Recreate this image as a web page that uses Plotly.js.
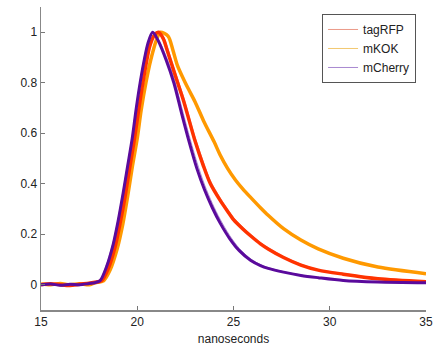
<!DOCTYPE html>
<html>
<head>
<meta charset="utf-8">
<script src="https://cdn.plot.ly/plotly-3.0.1.min.js"></script>
<style>
html,body{margin:0;padding:0;background:#fff;}
#chart{width:440px;height:350px;}
</style>
</head>
<body>
<div id="chart"></div>
<script>
// ---- data ----
const seriesNames = ["tagRFP", "mKOK", "mCherry"];

const mCherryX = [15, 15.5, 16, 16.5, 17, 17.5, 17.8, 18.07, 18.4, 18.75, 19.0, 19.27, 19.5, 19.74, 19.95, 20.15, 20.35, 20.55, 20.8, 21.1, 21.5, 21.9, 22.3, 22.7, 23.1, 23.5, 23.9, 24.3, 24.8, 25.3, 25.9, 26.4, 26.8, 27.6, 28.5, 29.4, 30.7, 32.5, 35];
const mCherryY = [0.0, 0.003, -0.002, 0.002, 0.0, 0.005, 0.008, 0.016, 0.07, 0.16, 0.25, 0.364, 0.47, 0.58, 0.70, 0.80, 0.885, 0.955, 1.0, 0.965, 0.89, 0.80, 0.68, 0.565, 0.46, 0.375, 0.305, 0.245, 0.183, 0.135, 0.096, 0.076, 0.065, 0.05, 0.037, 0.028, 0.017, 0.011, 0.008];
const mCherryRepY = [0.0, 0.002, 0.001, -0.001, 0.002, 0.004, 0.01, 0.02, 0.08, 0.17, 0.26, 0.375, 0.48, 0.59, 0.71, 0.81, 0.895, 0.962, 1.0, 0.972, 0.905, 0.82, 0.705, 0.59, 0.485, 0.395, 0.322, 0.26, 0.195, 0.144, 0.102, 0.08, 0.068, 0.052, 0.039, 0.029, 0.018, 0.012, 0.009];

const tagRFPX = [15, 15.5, 16, 16.5, 17, 17.5, 17.8, 18.15, 18.5, 18.85, 19.1, 19.37, 19.6, 19.84, 20.05, 20.25, 20.45, 20.65, 20.9, 21.1, 21.35, 21.55, 21.8, 22.1, 22.4, 22.7, 23.0, 23.44, 23.8, 24.3, 24.7, 25.0, 25.5, 25.9, 26.4, 26.8, 27.6, 28.5, 29.4, 30.7, 32.5, 35];
const tagRFPY = [0.0, 0.004, 0.0, -0.003, 0.002, 0.006, 0.01, 0.016, 0.065, 0.15, 0.24, 0.35, 0.46, 0.57, 0.68, 0.78, 0.87, 0.945, 0.99, 1.0, 0.975, 0.93, 0.87, 0.80, 0.73, 0.65, 0.57, 0.47, 0.40, 0.335, 0.29, 0.258, 0.22, 0.193, 0.162, 0.142, 0.108, 0.078, 0.058, 0.042, 0.024, 0.012];
const tagRFPRepY = [0.005, -0.003, 0.006, 0.0, -0.004, 0.01, 0.004, 0.01, 0.05, 0.13, 0.22, 0.33, 0.45, 0.56, 0.67, 0.77, 0.86, 0.94, 0.985, 1.0, 0.985, 0.945, 0.885, 0.815, 0.745, 0.665, 0.585, 0.485, 0.412, 0.345, 0.298, 0.266, 0.227, 0.199, 0.167, 0.147, 0.112, 0.082, 0.06, 0.045, 0.027, 0.014];

const mKOKX = [15, 15.5, 16, 16.5, 17, 17.5, 17.8, 18.25, 18.6, 18.95, 19.25, 19.5, 19.75, 20.0, 20.2, 20.45, 20.7, 21.0, 21.2, 21.6, 21.85, 22.08, 22.4, 22.66, 23.0, 23.44, 24.0, 24.3, 24.7, 25.1, 25.5, 25.9, 26.4, 26.8, 27.6, 28.5, 29.4, 30.7, 32.5, 35];
const mKOKY = [0.003, 0.0, 0.005, 0.0, 0.004, 0.0, 0.008, 0.016, 0.06, 0.14, 0.24, 0.35, 0.47, 0.58, 0.69, 0.80, 0.89, 0.97, 1.0, 0.985, 0.93, 0.87, 0.815, 0.775, 0.725, 0.65, 0.565, 0.515, 0.46, 0.415, 0.378, 0.345, 0.305, 0.275, 0.222, 0.177, 0.142, 0.105, 0.07, 0.044];
const mKOKRepY = [0.0, 0.006, 0.0, 0.004, -0.002, 0.005, 0.012, 0.02, 0.07, 0.15, 0.25, 0.36, 0.48, 0.59, 0.70, 0.81, 0.90, 0.975, 1.0, 0.98, 0.925, 0.865, 0.81, 0.77, 0.72, 0.645, 0.56, 0.51, 0.455, 0.412, 0.376, 0.343, 0.304, 0.274, 0.221, 0.178, 0.141, 0.107, 0.072, 0.045];

const xTicks = [15, 20, 25, 30, 35];
const yTicks = [0, 0.2, 0.4, 0.6, 0.8, 1];

// ---- styles ----
const thickColors = {tagRFP: "#ff3300", mKOK: "#ff9900", mCherry: "#5a0a9c"};
const thinColors = {tagRFP: "#eb9a88", mKOK: "#f2c870", mCherry: "#a888d0"};

const traces = [
  {x: tagRFPX, y: tagRFPRepY, name: "tagRFP", mode: "lines", line: {color: thinColors.tagRFP, width: 1, shape: "spline", smoothing: 0.8}},
  {x: mKOKX, y: mKOKRepY, name: "mKOK", mode: "lines", line: {color: thinColors.mKOK, width: 1, shape: "spline", smoothing: 0.8}},
  {x: mCherryX, y: mCherryRepY, name: "mCherry", mode: "lines", line: {color: thinColors.mCherry, width: 1, shape: "spline", smoothing: 0.8}},
  {x: mKOKX, y: mKOKY, name: "mKOK", mode: "lines", showlegend: false, line: {color: thickColors.mKOK, width: 3.5, shape: "spline", smoothing: 0.8}},
  {x: tagRFPX, y: tagRFPY, name: "tagRFP", mode: "lines", showlegend: false, line: {color: thickColors.tagRFP, width: 3.5, shape: "spline", smoothing: 0.8}},
  {x: mCherryX, y: mCherryY, name: "mCherry", mode: "lines", showlegend: false, line: {color: thickColors.mCherry, width: 3, shape: "spline", smoothing: 0.8}}
];

const font = {family: "Liberation Sans, Arial, sans-serif", size: 12, color: "#222"};

const layout = {
  width: 440, height: 350,
  margin: {l: 41, r: 14, t: 7, b: 40},
  paper_bgcolor: "#fff", plot_bgcolor: "#fff",
  font: font,
  showlegend: true,
  legend: {x: 0.73, y: 0.977, xanchor: "left", yanchor: "top", bgcolor: "#fff",
           bordercolor: "#555", borderwidth: 1, font: {family: font.family, size: 12, color: "#222"}},
  xaxis: {range: [15, 35], tickvals: xTicks, ticktext: xTicks.map(String), ticks: "inside", ticklen: 4,
          tickcolor: "#777", showline: true, linecolor: "#888", linewidth: 1.5, showgrid: false, zeroline: false,
          title: {text: "nanoseconds", font: {family: font.family, size: 12, color: "#222"}, standoff: 6}},
  yaxis: {range: [-0.1, 1.1], tickvals: yTicks, ticktext: yTicks.map(String), ticks: "inside", ticklen: 4,
          tickcolor: "#777", showline: true, linecolor: "#888", linewidth: 1.5, showgrid: false, zeroline: false}
};

Plotly.newPlot("chart", traces, layout, {displayModeBar: false, staticPlot: true});
</script>
</body>
</html>
